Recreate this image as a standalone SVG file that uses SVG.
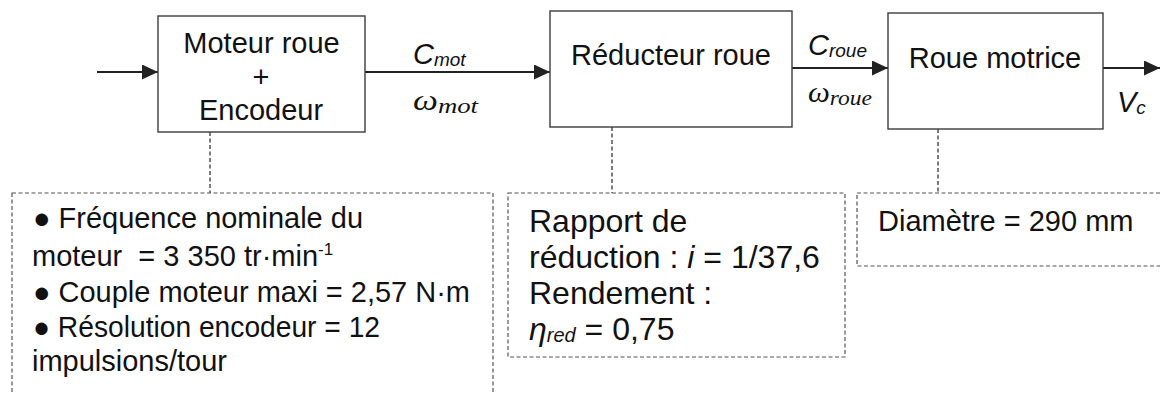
<svg xmlns="http://www.w3.org/2000/svg" width="1160" height="394" viewBox="0 0 1160 394">
<style>
.box{fill:#fff;stroke:#3c3c3c;stroke-width:1.4}
.note{fill:none;stroke:#555;stroke-width:1.2;stroke-dasharray:4 2.5}
.dash{fill:none;stroke:#444;stroke-width:1.4;stroke-dasharray:4 2.5}
.flow{fill:none;stroke:#222;stroke-width:2.2}
.t{font-family:"Liberation Sans",Arial,sans-serif;font-size:29px;fill:#111}
.n{font-family:"Liberation Sans",Arial,sans-serif;font-size:29px;fill:#111}
.n2{font-family:"Liberation Sans",Arial,sans-serif;font-size:32px;fill:#111}
.var{font-family:"Liberation Sans",Arial,sans-serif;font-style:italic;fill:#111}
.math{font-family:"Liberation Serif","DejaVu Serif",serif;font-style:italic;fill:#111}
</style>
<defs>
<marker id="ah" markerWidth="17" markerHeight="15" refX="16" refY="7.5" orient="auto" markerUnits="userSpaceOnUse">
<path d="M0,0 L16,7.5 L0,15 Z" fill="#222"/>
</marker>
</defs>
<rect width="1160" height="394" fill="#fff"/>

<g id="connectors">
<line class="flow" x1="97" y1="72" x2="158" y2="72" marker-end="url(#ah)"/>
<line class="flow" x1="365" y1="72" x2="550" y2="72" marker-end="url(#ah)"/>
<line class="flow" x1="792" y1="68" x2="888" y2="68" marker-end="url(#ah)"/>
<line class="flow" x1="1103" y1="68" x2="1160" y2="68" marker-end="url(#ah)"/>
<line class="dash" x1="210" y1="132" x2="210" y2="193"/>
<line class="dash" x1="612" y1="127" x2="612" y2="193"/>
<line class="dash" x1="938" y1="129" x2="938" y2="193"/>
<text class="var" x="413" y="64"><tspan font-size="29">C</tspan><tspan font-size="19" dy="2">mot</tspan></text>
<text class="math" x="413" y="110" textLength="65" lengthAdjust="spacingAndGlyphs"><tspan font-size="29">ω</tspan><tspan font-size="22" dy="3">mot</tspan></text>
<text class="var" x="808" y="55"><tspan font-size="29">C</tspan><tspan font-size="19" dy="2">roue</tspan></text>
<text class="math" x="808" y="102" textLength="64" lengthAdjust="spacingAndGlyphs"><tspan font-size="29">ω</tspan><tspan font-size="22" dy="3">roue</tspan></text>
<text class="var" x="1117" y="112"><tspan font-size="29">V</tspan><tspan font-size="19" dy="2">c</tspan></text>
</g>

<g id="moteur">
<rect class="box" x="158" y="16" width="207" height="116"/>
<text class="t" x="261.5" y="53" text-anchor="middle">Moteur roue</text>
<text class="t" x="261" y="87" text-anchor="middle">+</text>
<text class="t" x="261" y="120" text-anchor="middle">Encodeur</text>
</g>

<g id="reducteur">
<rect class="box" x="550" y="11" width="242" height="116"/>
<text class="t" x="671" y="65" text-anchor="middle">Réducteur roue</text>
</g>

<g id="roue">
<rect class="box" x="888" y="13" width="215" height="116"/>
<text class="t" x="995" y="68" text-anchor="middle">Roue motrice</text>
</g>

<g id="note-moteur">
<rect class="note" x="12" y="193" width="481" height="210"/>
<text class="n" x="33" y="228" textLength="330" lengthAdjust="spacingAndGlyphs">● Fréquence nominale du</text>
<text class="n" x="32" y="266">moteur &#160;= 3 350 tr·min<tspan font-size="17" dy="-11">-1</tspan></text>
<text class="n" x="33" y="302" textLength="437" lengthAdjust="spacingAndGlyphs">● Couple moteur maxi = 2,57 N·m</text>
<text class="n" x="33" y="337" textLength="347" lengthAdjust="spacingAndGlyphs">● Résolution encodeur = 12</text>
<text class="n" x="32" y="371">impulsions/tour</text>
</g>

<g id="note-reducteur">
<rect class="note" x="508" y="193" width="337" height="164"/>
<text class="n2" x="529" y="232">Rapport de</text>
<text class="n2" x="529" y="268">réduction : <tspan font-style="italic">i</tspan> = 1/37,6</text>
<text class="n2" x="529" y="304">Rendement :</text>
<text class="n2" x="529" y="340"><tspan font-style="italic">η</tspan><tspan font-style="italic" font-size="20" dy="2">red</tspan><tspan dy="-2"> = 0,75</tspan></text>
</g>

<g id="note-roue">
<rect class="note" x="857" y="193" width="320" height="73"/>
<text class="n" x="878" y="231">Diamètre = 290 mm</text>
</g>
</svg>
